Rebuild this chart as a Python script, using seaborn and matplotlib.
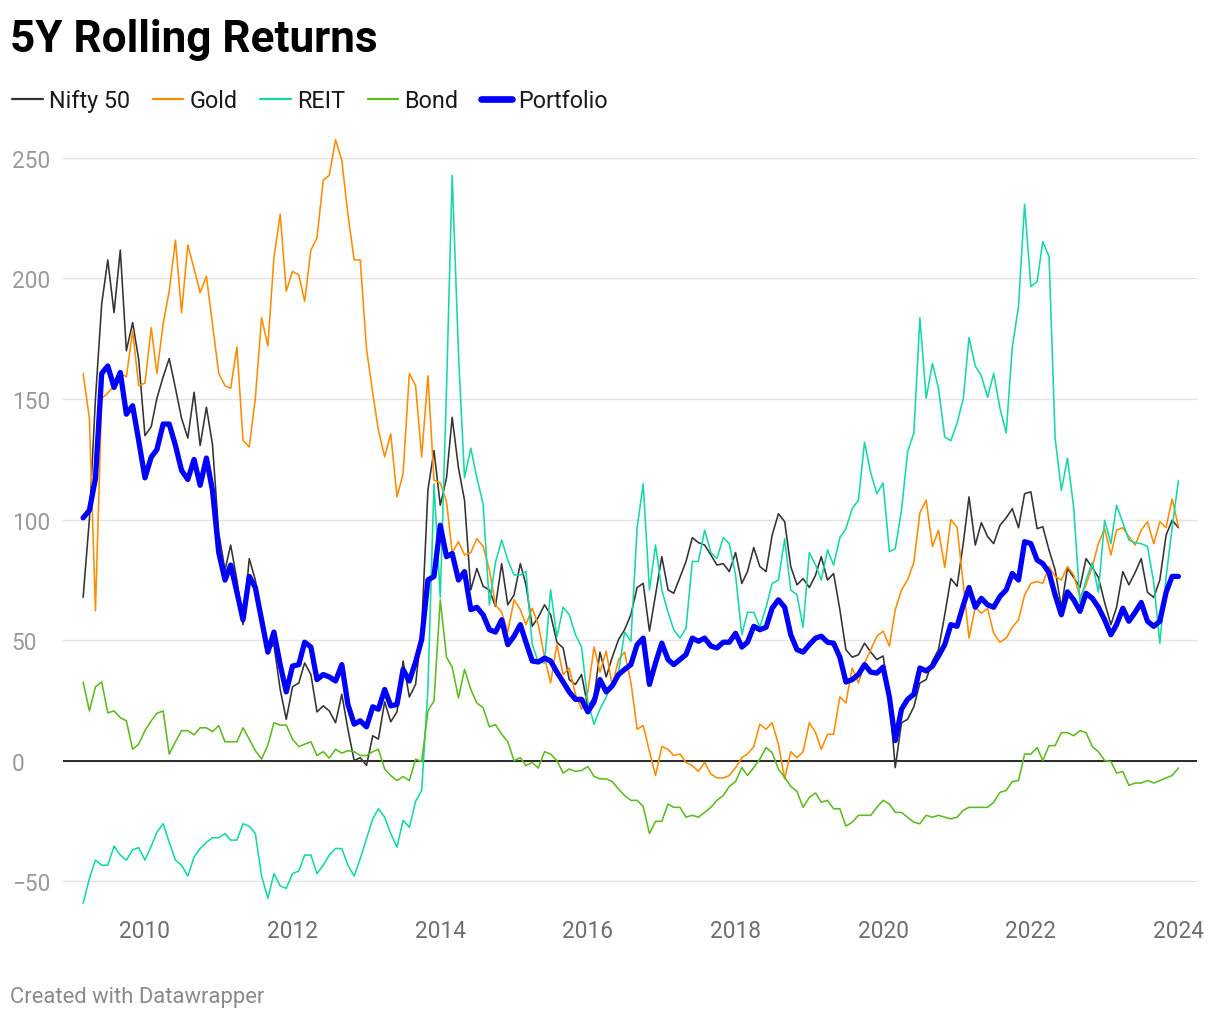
import numpy as np
import pandas as pd
import matplotlib
matplotlib.use("Agg")
import matplotlib.pyplot as plt
import matplotlib.dates as mdates
import seaborn as sns
from matplotlib.lines import Line2D

# ---------------- data (monthly, Mar 2009 .. Jan 2024) ----------------
start_month = "2009-03-01"

nifty = [67.7, 100, 150, 189.5, 207.7, 185.8, 211.8, 170, 181.7, 166.4,
         134.8, 138.5, 150.3, 159.2, 166.8, 154.4, 142, 133.8, 152.8, 130.7,
         146.6, 131.1, 94.5, 79, 89.4, 74.9, 56.4, 83.8, 74.9, 60.5,
         46, 48.1, 29.5, 17.1, 30.6, 32.2, 40.5, 35.7, 20.2, 22.7,
         20.6, 15.7, 27.5, 13, 0, 1.2, -2, 10.3, 8.9, 24.4,
         16.1, 20.2, 41.3, 26.4, 31.6, 55, 112.3, 128.6, 105.9, 117.3,
         142.4, 121.4, 108, 70.8, 79.7, 72.3, 70.8, 64, 81.7, 64.6,
         68.7, 81.7, 72.9, 55.7, 59.5, 64.6, 60.5, 49.1, 46.7, 33.6,
         31.6, 35.7, 22.3, 26.4, 45, 34.7, 42.9, 50.2, 54.3, 60.5,
         71.8, 73.5, 53.7, 68.7, 84.6, 70.8, 69.4, 76, 82.6, 92.5,
         90.4, 89.4, 85.3, 81.1, 81.7, 78.4, 86.3, 73.5, 78.4, 88.4,
         80.5, 78.4, 93.5, 102.4, 99.1, 80.5, 72.9, 75.5, 71.8, 77,
         84.6, 74.9, 77.6, 62.6, 46, 42.9, 43.9, 48.7, 45, 41.9,
         43.4, 26.4, -2.9, 15.7, 17.1, 22.3, 32.2, 33.6, 41.3, 46,
         60.5, 75.5, 72.3, 90.4, 109.4, 89.4, 98.7, 92.9, 90, 97.6,
         100.7, 104.5, 96.6, 110.7, 111.5, 96.2, 97, 87.3, 79.1, 63.6,
         79.7, 76, 71.8, 83.8, 80.1, 76, 65.6, 56.4, 63.6, 78.4,
         72.9, 78, 83.8, 69.8, 67.7, 74.9, 93.5, 99.7, 96.6]

gold = [160.6, 142, 62.1, 150.3, 152.4, 155.5, 160.6, 159.2, 178.2, 155.5,
        156.6, 179.6, 160.6, 181.2, 194.8, 215.9, 185.8, 213.9, 204.0, 194.1,
        200.9, 181.2, 160.6, 155.5, 154.4, 171.6, 132.8, 130.1, 150.3, 183.7,
        172, 208.5, 226.7, 194.7, 202.9, 201.5, 190.5, 211.8, 216.8, 240.7,
        242.8, 257.6, 248.9, 226.7, 207.7, 207.7, 170.9, 152.4, 137, 126,
        135.5, 109.4, 118.9, 160.6, 155.5, 126, 159.6, 116.3, 115.2, 107.4,
        86.3, 90.8, 85.3, 86.3, 92.1, 88.8, 79.1, 64.6, 61.5, 53.3,
        66.7, 62.6, 56.4, 63.2, 56.4, 42.9, 32.2, 48.1, 35.7, 38.4,
        27.5, 21.3, 28.5, 47.1, 36.7, 45.4, 31, 41.9, 45, 32.6,
        13, 14.5, 3.7, -6.2, 5.8, 4.7, 2.1, 2.7, -0.8, -2.1,
        -4.5, -0.8, -5.6, -7.2, -7.2, -6.2, -2.9, 1.2, 2.7, 5.8,
        15.1, 13, 15.7, 6.8, -7.6, 3.7, 1.2, 3.7, 15.7, 11.6,
        4.7, 10.9, 10.9, 26.4, 23.9, 38.4, 32.2, 40.5, 46, 51.6,
        53.7, 47.5, 62.6, 70.8, 74.9, 82.2, 102.8, 108, 88.8, 95.6,
        80.1, 99.9, 96.8, 72.9, 50.8, 63.6, 61.1, 63.2, 52.8, 49.1,
        50.8, 55.3, 58.4, 68.7, 73.5, 74.3, 73.5, 80.5, 76.4, 74.9,
        80.5, 77, 67.7, 72.9, 80.5, 90, 96.2, 85.3, 95.6, 96.6,
        92.9, 89.4, 95.6, 99.1, 90, 99.1, 96.6, 108.6, 97]

reit = [-59.2, -48.9, -41.3, -43.4, -43.4, -35.5, -39.2, -41.3, -37, -36.1,
        -41.3, -35.5, -29.7, -26.2, -33.9, -41.3, -43.4, -47.9, -40, -36.5,
        -33.9, -32, -32, -30.3, -33, -33, -26.2, -27.2, -30.3, -47.9,
        -57.2, -46.9, -52, -53, -46.9, -45.8, -39.2, -39.2, -46.9, -43.4,
        -39.2, -36.5, -36.5, -43.4, -47.9, -40.7, -32.4, -24.2, -20, -23.5,
        -30.3, -35.9, -24.8, -27.7, -16.9, -12.4, 30, 114.8, 67.7, 154.4,
        242.8, 168.9, 117.3, 129.6, 117.3, 106.5, 64.6, 82.2, 91.5, 83.2,
        77, 77, 78.4, 48.1, 40.9, 40.5, 70.8, 51.2, 63.6, 60.5,
        52.2, 47.1, 24.4, 15.1, 21.3, 26.4, 32.6, 36.7, 53.3, 49.5,
        96.6, 114.8, 70.8, 89.4, 70.8, 61.5, 54.3, 50.8, 54.9, 82.6,
        82.6, 95.6, 86.3, 83.8, 92.5, 90, 77, 52.2, 61.5, 61.5,
        55.3, 63.6, 73.5, 74.9, 92, 70.8, 68.7, 55.3, 86.3, 81.1,
        74.9, 87.4, 81.1, 92.5, 96.2, 104.5, 108, 132.1, 119.3, 110.7,
        115.2, 86.7, 87.9, 103.8, 128, 135.9, 183.7, 150.3, 164.7, 154.4,
        134.2, 132.7, 140, 150.3, 175.5, 163.7, 159.6, 150.7, 160.6, 146.2,
        135.9, 171.4, 188.5, 230.8, 196.6, 198.7, 215.3, 209.1, 133.8, 112.1,
        125.5, 104.9, 65.6, 74.9, 82.2, 69.8, 99.7, 90, 105.9, 98.7,
        91.5, 90.4, 90, 88.8, 73.9, 48.7, 76, 96.6, 116.2]

bond = [32.6, 20.6, 30.6, 32.6, 19.8, 20.6, 17.8, 16.5, 4.7, 6.8,
        12.4, 16.5, 19.6, 20.6, 2.7, 7.8, 12.4, 12.4, 10.7, 13.6,
        13.6, 12, 14.5, 7.8, 7.8, 7.8, 13.6, 8.9, 4.1, 0.6,
        6.4, 15.7, 14.7, 14.7, 8.9, 5.8, 6.8, 7.8, 2.1, 3.7,
        1, 4.7, 3.1, 4.1, 3.7, 2.1, 2.1, 3.7, 4.7, -3.5,
        -6.2, -8.3, -6.6, -8.3, 0.6, -0.4, 20.6, 24.8, 66.7, 42.9,
        38.8, 26, 37.8, 29.5, 23.9, 21.9, 14, 14.9, 10.9, 7.8,
        0, 1.2, -2.1, -0.8, -3.1, 3.7, 2.7, 0, -5.2, -3.5,
        -4.5, -4.1, -2.5, -6.6, -7.6, -7.6, -8.7, -11.8, -14.5, -16.5,
        -16.5, -19, -30.3, -25.2, -25.2, -18, -19.4, -19.4, -23.5, -22.7,
        -23.5, -21.5, -19.4, -16.5, -14.5, -10.7, -8.7, -2.9, -6.2, -2.9,
        0.6, 5.4, 3.3, -3.5, -7, -10.7, -12.8, -19.4, -15.3, -13.4,
        -17.3, -16.5, -20, -20, -27.2, -25.6, -22.7, -22.7, -22.7, -19.4,
        -16.5, -18, -21.5, -21.5, -23.5, -25.6, -26.2, -22.7, -23.5, -22.7,
        -23.5, -24.2, -23.5, -20.6, -19.4, -19.4, -19.4, -19.4, -17.3, -13.2,
        -12.4, -8.7, -8.3, 2.7, 2.7, 5.4, 0, 6.2, 6.2, 11.6,
        11.6, 10.3, 12.4, 11.6, 5.8, 3.7, 0, -0.4, -5.2, -4.5,
        -10.3, -9.3, -9.3, -8.3, -9.3, -8.3, -7.2, -6.2, -3.1]

portfolio = [100.7, 103.8, 117, 160.6, 163.7, 154.8, 161, 143.7, 147.2, 132.7,
             117.3, 125.9, 129, 139.6, 139.6, 130.7, 120.4, 116.6, 124.9, 114.2,
             125.5, 112.1, 86.3, 74.9, 81.1, 69.8, 58.4, 76.4, 71.8, 58.4,
             45, 53.3, 39.8, 28.5, 39.2, 39.8, 49.1, 47.1, 33.6, 35.7,
             34.7, 33, 39.8, 23.3, 15.1, 16.5, 14, 22.3, 21.3, 29.5,
             22.7, 23.3, 37.8, 33, 40.9, 50.2, 74.9, 76.4, 97.6, 84.6,
             85.9, 74.9, 78.4, 62.6, 63.6, 60.5, 54.3, 53.3, 58.4, 48.1,
             51.6, 56.4, 49.1, 41.3, 40.9, 42.5, 41.3, 36.7, 32.6, 28.5,
             25.4, 25.4, 20.2, 24.4, 33.6, 28.5, 31, 35.7, 37.8, 39.8,
             48.1, 50.8, 31.6, 40.5, 48.7, 41.9, 39.8, 41.9, 44, 50.8,
             49.5, 50.8, 47.5, 46.7, 49.1, 49.1, 52.8, 47.1, 49.1, 55.7,
             54.3, 55.3, 63.2, 66.7, 63.6, 52.2, 46, 45, 48.1, 50.8,
             51.6, 49.1, 48.7, 42.9, 32.6, 33.6, 35.7, 39.8, 36.7, 36.3,
             38.8, 26.4, 8.3, 21.3, 25.4, 27.5, 38.4, 37.2, 39.2, 43.4,
             48.1, 56.4, 55.7, 64.6, 71.8, 63.6, 67.3, 64.6, 63.6, 68.1,
             70.8, 77.6, 74.9, 90.8, 90, 83.2, 81.7, 78, 68.7, 60.5,
             70, 66.7, 61.9, 69.4, 67.3, 63.6, 58.4, 52.2, 56.4, 63.2,
             57.8, 61.5, 65.6, 57.8, 55.7, 57.8, 69.8, 76.4, 76.4]

series_names = ["Nifty 50", "Gold", "REIT", "Bond", "Portfolio"]
series_colors = ["#333333", "#ff8c00", "#14d9a6", "#5dbb1e", "#0000ff"]
series_widths = [1.15, 1.15, 1.15, 1.15, 3.8]

y_ticks = [-50, 0, 50, 100, 150, 200, 250]
x_tick_years = [2010, 2012, 2014, 2016, 2018, 2020, 2022, 2024]

# ---------------- build table ----------------
dates = pd.date_range(start_month, periods=len(nifty), freq="MS")
wide = pd.DataFrame({"date": dates, "Nifty 50": nifty, "Gold": gold,
                     "REIT": reit, "Bond": bond, "Portfolio": portfolio})
long = wide.melt(id_vars="date", var_name="series", value_name="value")

# ---------------- style ----------------
sns.set_theme(style="white")
plt.rcParams["font.family"] = ["Roboto", "DejaVu Sans"]
plt.rcParams["axes.unicode_minus"] = True

W, H = 1220, 1020
fig = plt.figure(figsize=(W / 100, H / 100), dpi=100)
ax_l, ax_r, ax_t, ax_b = 62.5, 1197, 130, 912
ax = fig.add_axes([ax_l / W, 1 - ax_b / H, (ax_r - ax_l) / W, (ax_b - ax_t) / H])

palette = dict(zip(series_names, series_colors))
sizes = dict(zip(series_names, series_widths))
sns.lineplot(data=long, x="date", y="value", hue="series", hue_order=series_names,
             size="series", size_order=series_names, sizes=sizes,
             palette=palette, ax=ax, legend=False, estimator=None,
             solid_joinstyle="round", solid_capstyle="round")

# axes
ax.set_ylim(-62.4, 262)
ax.set_xlim(pd.Timestamp("2008-11-19"), pd.Timestamp("2024-04-02"))
for s in ax.spines.values():
    s.set_visible(False)
ax.set_xlabel("")
ax.set_ylabel("")

ax.set_yticks(y_ticks)
ax.set_yticklabels([f"{v}".replace("-", "\u2212") for v in y_ticks])
ax.yaxis.grid(True, color="#e3e3e3", linewidth=1.0)
ax.xaxis.grid(False)
ax.set_axisbelow(True)
ax.axhline(0, color="#1a1a1a", linewidth=1.3, zorder=1.5)

ax.tick_params(axis="y", length=0, pad=36.6, labelsize=16.3, labelcolor="#9a9a9a")
for lbl in ax.get_yticklabels():
    lbl.set_horizontalalignment("left")

ax.set_xticks([pd.Timestamp(f"{y}-01-01") for y in x_tick_years])
ax.set_xticklabels([str(y) for y in x_tick_years])
ax.tick_params(axis="x", length=0, pad=5.5, labelsize=16.3, labelcolor="#6e6e6e")

# title
fig.text(10 / W, 1 - 52 / H, "5Y Rolling Returns", fontsize=31.8, fontweight="bold",
         color="#000000", va="baseline", ha="left")

# legend
handles = [Line2D([0], [0], color=c, lw=(1.6 if n != "Portfolio" else 4.8),
                  solid_capstyle="round")
           for n, c in zip(series_names, series_colors)]
fig.legend(handles, series_names, loc="center left",
           bbox_to_anchor=(12 / W, 1 - 101.5 / H), ncol=5, frameon=False,
           fontsize=16.8, handlelength=1.31, handletextpad=0.26,
           columnspacing=0.98, borderpad=0, borderaxespad=0,
           labelcolor="#1a1a1a")

# footer
fig.text(10 / W, 1 - 1003 / H, "Created with Datawrapper", fontsize=15.8,
         color="#8a8a8a", va="baseline", ha="left")

fig.savefig("out.png", dpi=100, facecolor="white")
